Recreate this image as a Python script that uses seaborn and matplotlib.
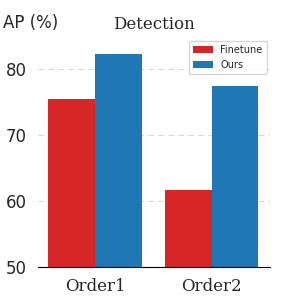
import matplotlib
matplotlib.use("Agg")
import matplotlib.pyplot as plt
import seaborn as sns
import pandas as pd

categories = ["Order1", "Order2"]
methods = ["Finetune", "Ours"]
finetune = [75.5, 61.7]
ours = [82.3, 77.4]
colors = ["#d62728", "#1f77b4"]

df = pd.DataFrame({
    "cat": categories * 2,
    "method": [methods[0]] * 2 + [methods[1]] * 2,
    "AP": finetune + ours,
})

sns.set_style("white")
fig = plt.figure(figsize=(3, 3), dpi=100)
ax = fig.add_axes([38/300, 33/300, 232/300, 234/300])
sns.barplot(data=df, x="cat", y="AP", hue="method", palette=colors,
            ax=ax, saturation=1, width=0.8, linewidth=0, edgecolor="none")
ax.set_ylim(50, 85.5)
ax.set_yticks([50, 60, 70, 80])
ax.set_xlim(-0.49, 1.5)
ax.yaxis.grid(True, linestyle=(0, (5, 4)), color="#d8d8d8", linewidth=0.8)
ax.set_axisbelow(True)
for s in ["left", "right", "top"]:
    ax.spines[s].set_visible(False)
ax.spines["bottom"].set_color("black")
ax.set_xlabel("")
ax.set_ylabel("")
ax.tick_params(axis="y", labelsize=12, length=0, pad=8)
ax.tick_params(axis="x", length=0, pad=8)
for lab in ax.get_xticklabels():
    lab.set_fontfamily("DejaVu Serif")
    lab.set_fontsize(12)
ax.set_title("Detection", fontfamily="DejaVu Serif", fontsize=12, pad=3)
fig.text(3/300, 1 - 23/300, "AP (%)", fontsize=12, va="center", ha="left")
leg = ax.legend(loc="upper right", fontsize=7, frameon=True, handlelength=2,
                borderpad=0.4, labelspacing=0.5, borderaxespad=0,
                bbox_to_anchor=(0.985, 0.965))
leg.set_title(None)
fig.savefig("out.png", dpi=100)
